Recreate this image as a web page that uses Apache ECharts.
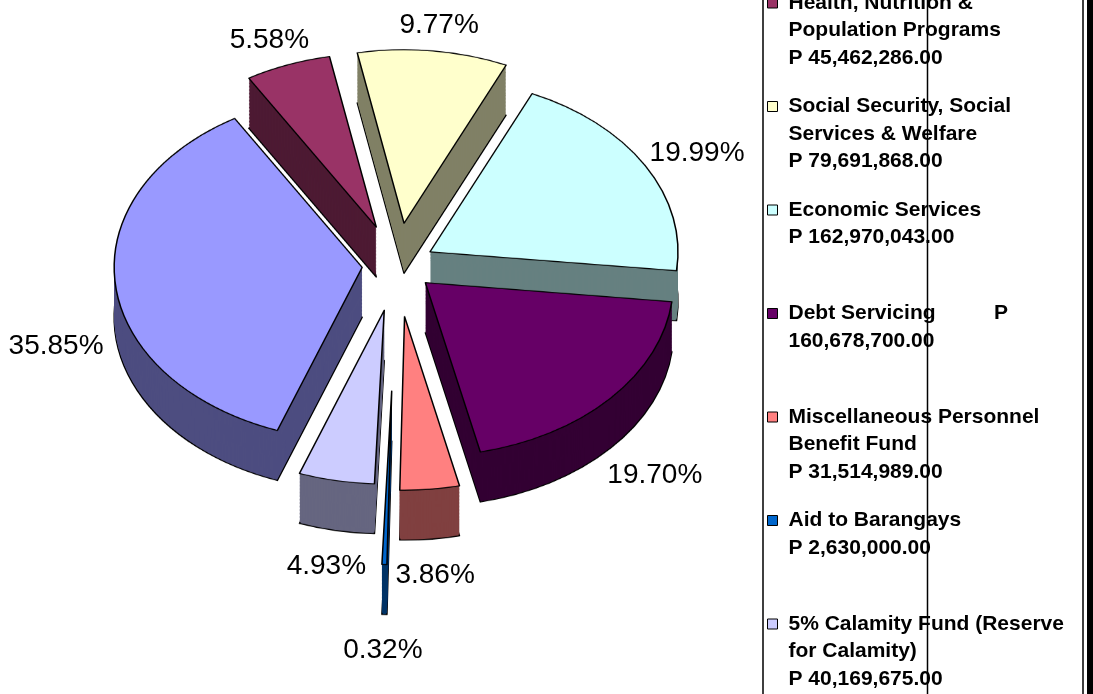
<!DOCTYPE html>
<html>
<head>
<meta charset="utf-8">
<script src="https://cdn.jsdelivr.net/npm/echarts@6/dist/echarts.min.js"></script>
<style>
  html, body { margin: 0; padding: 0; background: #fff; }
  #wrap { position: relative; width: 1093px; height: 694px; overflow: hidden; }
  /* the pie is drawn round and squashed to look tilted */
  #pie { position: absolute; left: 0; top: 0; width: 770px; height: 992px; transform: scaleY(0.7); transform-origin: 0 0; }
  #main { position: absolute; left: 0; top: 0; width: 1093px; height: 694px; }
</style>
</head>
<body>
<div id="wrap"><div id="pie"></div><div id="main"></div></div>
<script>
  // data
  var categories = ['General Public Services', 'Health, Nutrition & Population Programs', 'Social Security, Social Services & Welfare',
    'Economic Services', 'Debt Servicing', 'Miscellaneous Personnel Benefit Fund', 'Aid to Barangays', '5% Calamity Fund (Reserve for Calamity)'];
  var legendNames = ['General Public Services', 'Health, Nutrition &\nPopulation Programs', 'Social Security, Social\nServices & Welfare',
    'Economic Services', 'Debt Servicing          P', 'Miscellaneous Personnel\nBenefit Fund', 'Aid to Barangays', '5% Calamity Fund (Reserve\nfor Calamity)'];
  var values = [292330000, 45462286, 79691868, 162970043, 160678700, 31514989, 2630000, 40169675];

  // look
  var topColors = ['#9999FF', '#993366', '#FFFFCC', '#CCFFFF', '#660066', '#FF8080', '#0066CC', '#CCCCFF'];
  var sideColors = ['#4D4D80', '#4D1A33', '#808066', '#668080', '#330033', '#804040', '#003366', '#666680'];
  var explode = [35, 58, 60, 38, 38, 74, 180, 66];
  var CX = 397, CY = 265, R = 248, TILT = 0.7, DEPTH = 50, STEPS = 36, START = 250, GAP = 12;
  var FONT = '"Liberation Sans", Arial, sans-serif';

  // one pie per slice per depth layer, only that slice painted, so each slice can explode on its own
  let pieLayer = function (s, l) {
    var isTop = l === 0, isBottom = l === STEPS;
    var style = {
      color: isTop ? topColors[s] : sideColors[s],
      borderColor: '#000',
      borderWidth: (isTop || isBottom) ? 1.5 : 0
    };
    return {
      type: 'pie',
      silent: true,
      center: [CX, CY / TILT + DEPTH / TILT * l / STEPS],
      radius: R,
      startAngle: START,
      selectedMode: 'multiple',
      selectedOffset: explode[s],
      label: { show: false },
      labelLine: { show: false },
      emphasis: { disabled: true },
      data: values.map(function (v, i) {
        if (i === s) {
          return { name: categories[i], value: v, selected: true, itemStyle: style, select: { itemStyle: style } };
        }
        return { name: categories[i], value: v, itemStyle: { color: 'rgba(0,0,0,0)', borderWidth: 0 } };
      })
    };
  };

  var layers = [];
  for (var l = STEPS; l >= 0; l--) {
    for (var s = 0; s < values.length; s++) {
      layers.push(pieLayer(s, l));
    }
  }

  let pieChart = echarts.init(document.getElementById('pie'));
  pieChart.setOption({ animation: false, series: layers });

  let legendText = function (name) {
    var i = categories.indexOf(name);
    var head = legendNames[i];
    var amt = values[i].toLocaleString('en-US', { minimumFractionDigits: 2, maximumFractionDigits: 2 });
    var lines = head.split('\n');
    lines.push(/ P$/.test(head) ? amt : 'P ' + amt);
    while (lines.length < 3) lines.push(' ');
    // two blank lines first so the marker sits beside the first line
    return ' \n \n' + lines.join('\n');
  };

  let myChart = echarts.init(document.getElementById('main'));
  var option = {
    animation: false,
    legend: {
      orient: 'vertical',
      left: 767,
      top: -66,
      padding: 0,
      itemGap: -34.5,
      itemWidth: 10,
      itemHeight: 10,
      icon: 'rect',
      selectedMode: false,
      data: categories.slice(1).map(function (n) {
        return { name: n, itemStyle: { color: topColors[categories.indexOf(n)] } };
      }),
      formatter: legendText,
      itemStyle: { borderColor: '#000', borderWidth: 1, opacity: 1 },
      textStyle: { fontFamily: FONT, fontSize: 21, fontWeight: 'bold', color: '#000', lineHeight: 27.6, padding: [0, 0, 0, 6] }
    },
    graphic: [
      { type: 'rect', silent: true, shape: { x: 763, y: -5, width: 320, height: 710 }, style: { fill: 'none', stroke: '#000', lineWidth: 1.5 } },
      { type: 'line', silent: true, shape: { x1: 927.5, y1: -5, x2: 927.5, y2: 700 }, style: { stroke: '#000', lineWidth: 1.5 } },
      { type: 'rect', silent: true, shape: { x: 1087, y: 0, width: 6, height: 694 }, style: { fill: '#000' } }
    ],
    series: [
      {
        type: 'pie',
        silent: true,
        center: [CX, CY],
        radius: R,
        startAngle: START,
        avoidLabelOverlap: false,
        itemStyle: { opacity: 0 },
        label: {
          show: true, position: 'outside', opacity: 1,
          formatter: function (p) { return p.percent.toFixed(2) + '%'; },
          fontFamily: FONT, fontSize: 28, color: '#000', distanceToLabelLine: 0
        },
        labelLine: { show: false, length: 0, length2: 0 },
        // squash the label ring like the pie, drop the front ones below the side, keep a small gap
        labelLayout: function (p) {
          var r = p.labelRect;
          var ax = (r.x + r.width / 2 < CX) ? r.x + r.width : r.x;
          var ay = r.y + r.height / 2;
          var ux = ax - CX, uy = ay - CY;
          var len = Math.sqrt(ux * ux + uy * uy);
          var sx = ux / len, cy = uy / len;
          return {
            x: CX + ux + sx * (GAP + r.width / 2),
            y: CY + uy * TILT + (cy > 0 ? DEPTH + 10 : 0) + cy * (GAP + r.height / 2),
            align: 'center',
            verticalAlign: 'middle'
          };
        },
        data: values.map(function (v, i) {
          return { name: categories[i], value: v, itemStyle: { color: topColors[i] }, labelLine: { length: explode[i] } };
        })
      }
    ]
  };
  myChart.setOption(option);
</script>
</body>
</html>
